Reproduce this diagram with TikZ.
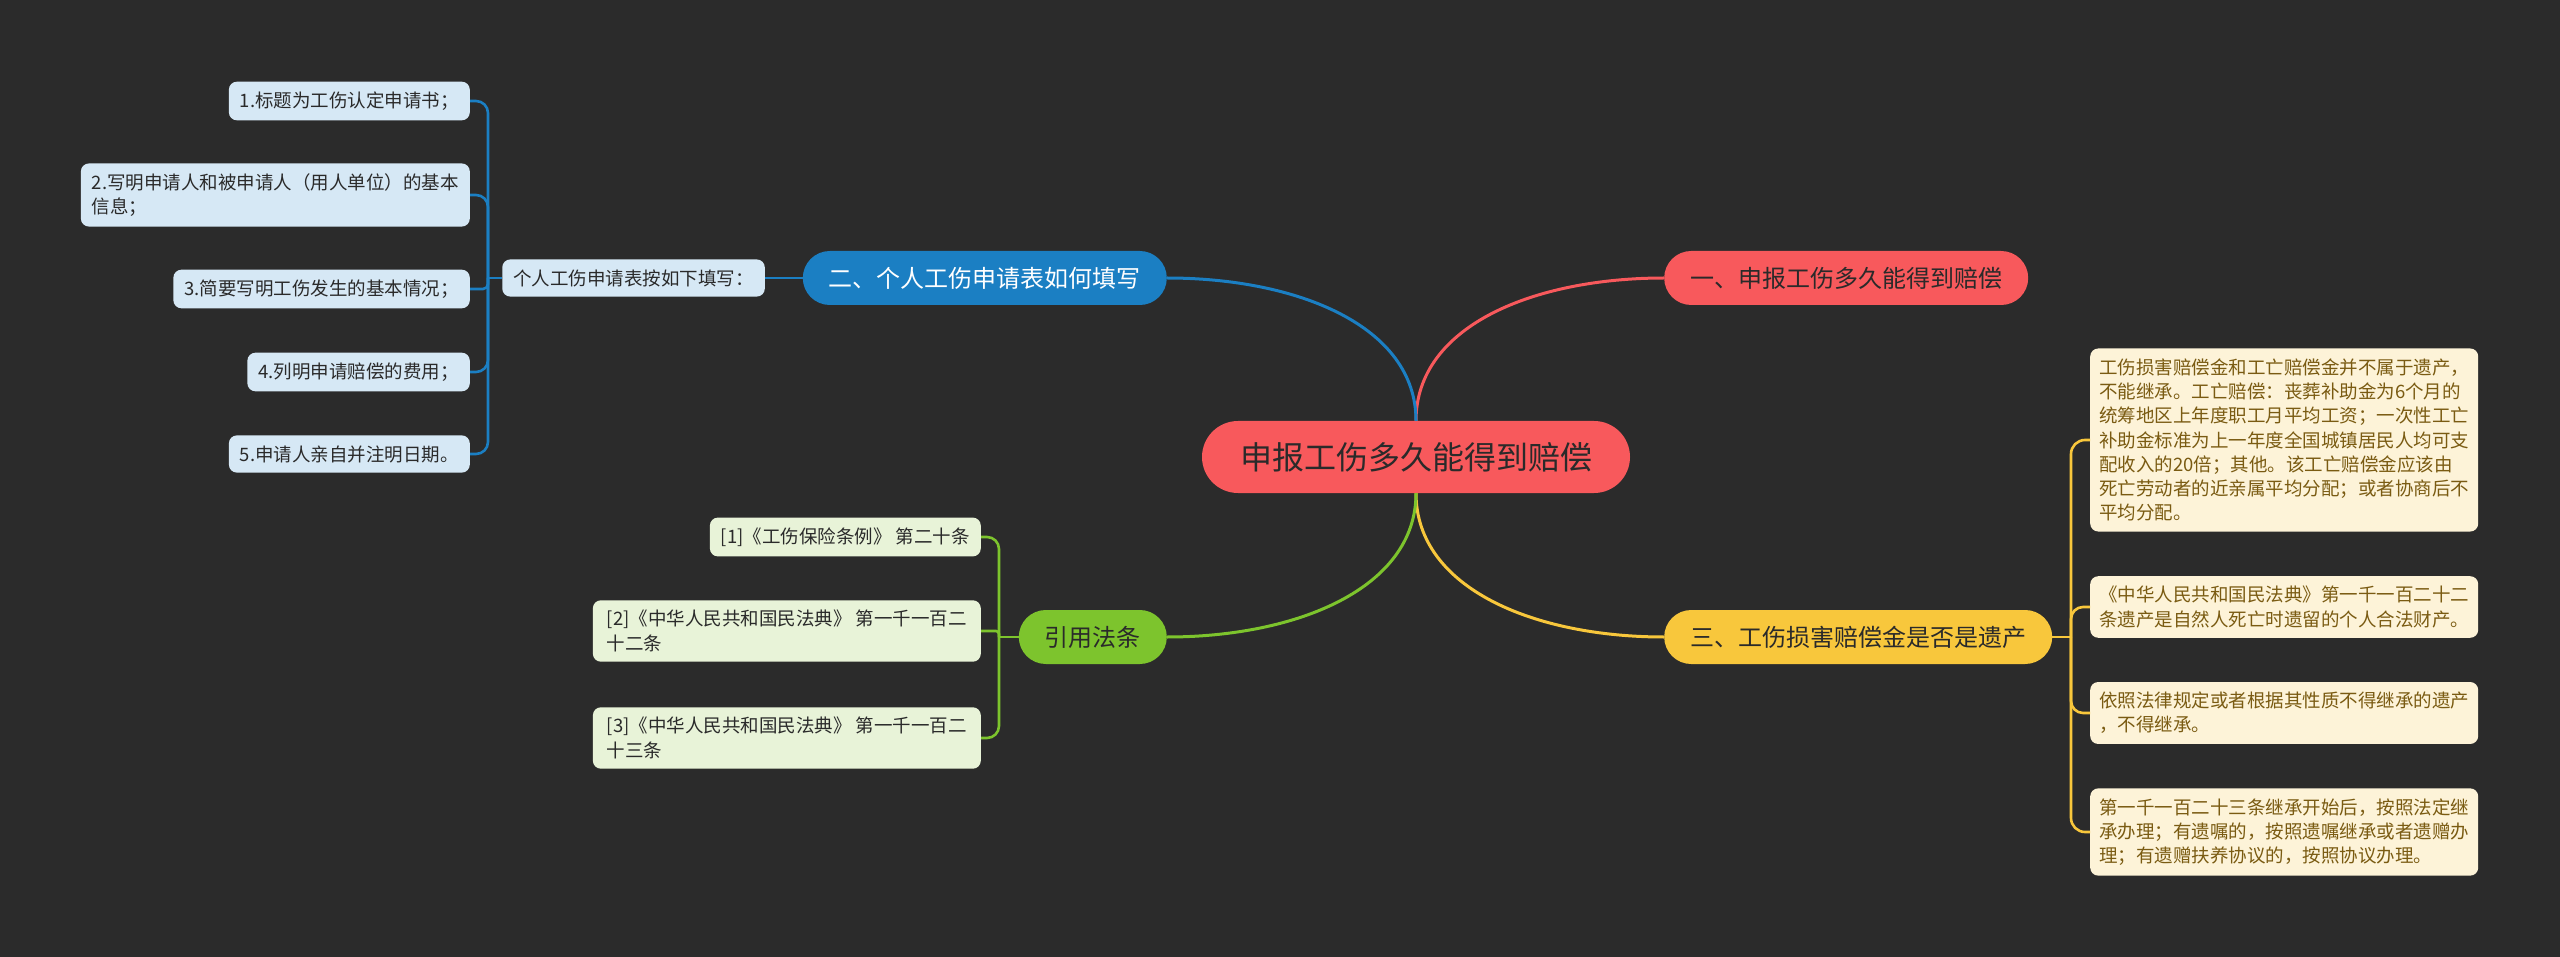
\documentclass[tikz,border=0pt]{standalone}
\usepackage{fontspec}
\setmainfont{Noto Sans CJK SC}
\definecolor{bg}{HTML}{2B2B2B}
\definecolor{cred}{HTML}{F8595C}
\definecolor{cblue}{HTML}{1B7FC3}
\definecolor{cgreen}{HTML}{7DC42D}
\definecolor{cyellow}{HTML}{F8C73C}
\definecolor{lblue}{HTML}{D6E8F5}
\definecolor{lgreen}{HTML}{E8F3D8}
\definecolor{lyellow}{HTML}{FDF3D8}
\definecolor{tdark}{HTML}{2A2A2A}
\definecolor{tbrown}{HTML}{7A5B12}
\begin{document}
\begin{tikzpicture}[x=1pt,y=-1pt,
  rootnode/.style={fill=cred, text=tdark, rounded corners=36pt, minimum height=72pt, inner xsep=38pt, inner ysep=0pt, font=\fontsize{32}{38}\selectfont},
  branchnode/.style={rounded corners=27pt, minimum height=54pt, inner xsep=26pt, inner ysep=0pt, font=\fontsize{24}{29}\selectfont},
  leafnode/.style={rounded corners=8pt, inner xsep=11pt, inner ysep=10pt, align=left, font=\fontsize{18.5}{24.3}\selectfont},
  bleaf/.style={leafnode, fill=lblue, text=tdark},
  gleaf/.style={leafnode, fill=lgreen, text=tdark},
  yleaf/.style={leafnode, fill=lyellow, text=tbrown, minimum width=388pt, inner xsep=9pt},
  mainline/.style={line width=3pt},
  subline/.style={line width=2.6pt}
]
\fill[bg] (0,0) rectangle (2560,957);
\useasboundingbox (0,0) rectangle (2560,957);

% root and branches
\node[rootnode] (root) at (1416,457) {申报工伤多久能得到赔偿};
\node[branchnode, fill=cred, text=tdark, anchor=west] (b1) at (1664,278) {一、申报工伤多久能得到赔偿};
\node[branchnode, fill=cblue, text=white, anchor=east] (b2) at (1167,278) {二、个人工伤申请表如何填写};
\node[branchnode, fill=cyellow, text=tdark, anchor=west] (b3) at (1664,637) {三、工伤损害赔偿金是否是遗产};
\node[branchnode, fill=cgreen, text=tdark, anchor=east] (b4) at (1167,637) {引用法条};

% blue sub-tree
\node[bleaf, anchor=east] (lab) at (765,278) {个人工伤申请表按如下填写：};
\node[bleaf, anchor=east] (l1) at (470,101) {1.标题为工伤认定申请书；};
\node[bleaf, anchor=east] (l2) at (470,195) {2.写明申请人和被申请人（用人单位）的基本\\信息；};
\node[bleaf, anchor=east] (l3) at (470,289) {3.简要写明工伤发生的基本情况；};
\node[bleaf, anchor=east] (l4) at (470,372) {4.列明申请赔偿的费用；};
\node[bleaf, anchor=east] (l5) at (470,454) {5.申请人亲自并注明日期。};

% green sub-tree
\node[gleaf, anchor=east] (g1) at (981,537) {[1]《工伤保险条例》 第二十条};
\node[gleaf, anchor=east, inner xsep=14pt] (g2) at (981,631) {[2]《中华人民共和国民法典》 第一千一百二\\十二条};
\node[gleaf, anchor=east, inner xsep=14pt] (g3) at (981,738) {[3]《中华人民共和国民法典》 第一千一百二\\十三条};

% yellow sub-tree
\node[yleaf, anchor=west] (y1) at (2090,440) {工伤损害赔偿金和工亡赔偿金并不属于遗产，\\不能继承。工亡赔偿：丧葬补助金为6个月的\\统筹地区上年度职工月平均工资；一次性工亡\\补助金标准为上一年度全国城镇居民人均可支\\配收入的20倍；其他。该工亡赔偿金应该由\\死亡劳动者的近亲属平均分配；或者协商后不\\平均分配。};
\node[yleaf, anchor=west] (y2) at (2090,607) {《中华人民共和国民法典》第一千一百二十二\\条遗产是自然人死亡时遗留的个人合法财产。};
\node[yleaf, anchor=west] (y3) at (2090,713) {依照法律规定或者根据其性质不得继承的遗产\\，不得继承。};
\node[yleaf, anchor=west] (y4) at (2090,832) {第一千一百二十三条继承开始后，按照法定继\\承办理；有遗嘱的，按照遗嘱继承或者遗赠办\\理；有遗赠扶养协议的，按照协议办理。};

% main connectors
\draw[mainline, cred] (root.north) .. controls +(0,-95) and +(-130,0) .. (b1.west);
\draw[mainline, cblue] (root.north) .. controls +(0,-95) and +(130,0) .. (b2.east);
\draw[mainline, cyellow] (root.south) .. controls +(0,95) and +(-130,0) .. (b3.west);
\draw[mainline, cgreen] (root.south) .. controls +(0,95) and +(130,0) .. (b4.east);

% blue connectors
\coordinate (bj) at (488,278);
\draw[subline, cblue] (b2.west) -- (lab.east);
\draw[subline, cblue] (lab.west) -- (bj);
\draw[subline, cblue, rounded corners=12pt] (bj) |- (l1.east);
\draw[subline, cblue, rounded corners=12pt] (bj) |- (l2.east);
\draw[subline, cblue, rounded corners=5pt] (bj) |- (l3.east);
\draw[subline, cblue, rounded corners=12pt] (bj) |- (l4.east);
\draw[subline, cblue, rounded corners=12pt] (bj) |- (l5.east);

% green connectors
\coordinate (gj) at (999,637);
\draw[subline, cgreen] (b4.west) -- (gj);
\draw[subline, cgreen, rounded corners=12pt] (gj) |- (g1.east);
\draw[subline, cgreen, rounded corners=3pt] (gj) |- (g2.east);
\draw[subline, cgreen, rounded corners=12pt] (gj) |- (g3.east);

% yellow connectors
\coordinate (yj) at (2071,637);
\draw[subline, cyellow] (b3.east) -- (yj);
\draw[subline, cyellow, rounded corners=14pt] (yj) |- (y1.west);
\draw[subline, cyellow, rounded corners=12pt] (yj) |- (y2.west);
\draw[subline, cyellow, rounded corners=12pt] (yj) |- (y3.west);
\draw[subline, cyellow, rounded corners=14pt] (yj) |- (y4.west);
\end{tikzpicture}
\end{document}
